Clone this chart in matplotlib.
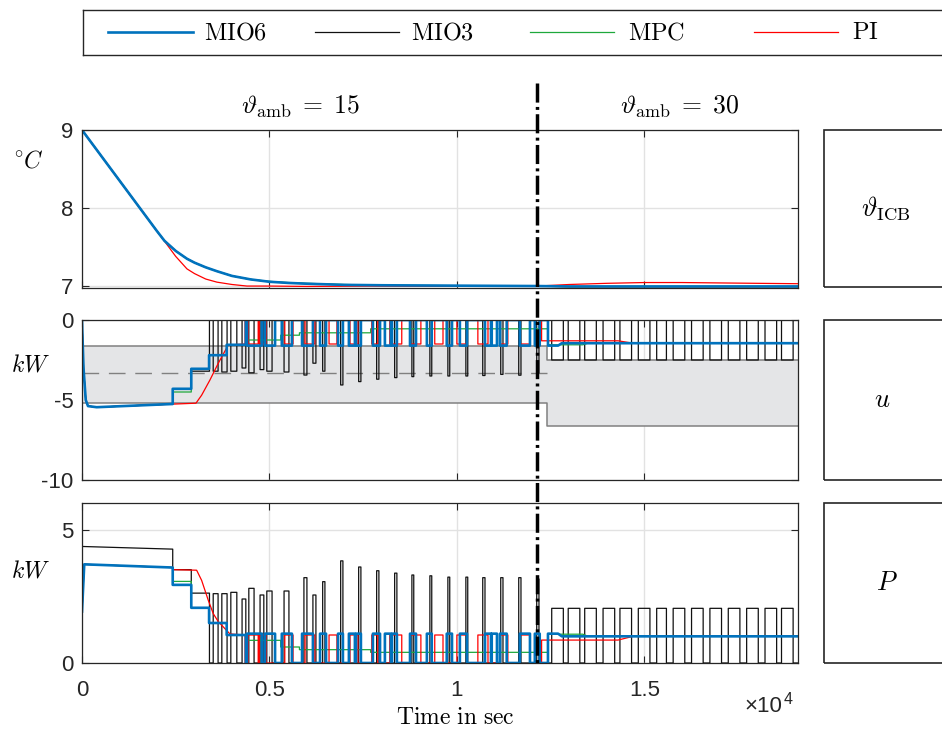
import matplotlib.pyplot as plt
import matplotlib.transforms as mtransforms
from matplotlib.lines import Line2D
from matplotlib.patches import Rectangle

plt.rcParams['font.family'] = ['Liberation Sans', 'DejaVu Sans']
plt.rcParams['mathtext.fontset'] = 'cm'
plt.rcParams['axes.unicode_minus'] = False

# ---------------- data ----------------
t_end = 19100
t_switch = 12150          # step of the ambient temperature
names = ['MIO6', 'MIO3', 'MPC', 'PI']
colors = {'MIO6': '#0072bd', 'MIO3': '#111111', 'MPC': '#1ea83c', 'PI': '#ff0000'}
amb_labels = [r'$\vartheta_{\mathrm{amb}}\;=\;15$', r'$\vartheta_{\mathrm{amb}}\;=\;30$']
box_labels = [r'$\vartheta_{\mathrm{ICB}}$', r'$u$', r'$P$']
xtick_vals = [0, 5000, 10000, 15000]
xtick_labels = ['0', '0.5', '1', '1.5']

# ICB temperature [degC]
temp_t = [0, 500, 1000, 1500, 2000, 2200, 2500, 2800, 3000, 3300, 3600, 4000, 4500,
          5000, 5500, 6000, 7000, 8000, 10000, 12150, 13000, 15000, 17000, 19100]
temp_mio6 = [9.0, 8.676, 8.352, 8.028, 7.704, 7.58, 7.45, 7.35, 7.30, 7.24, 7.19, 7.13, 7.085,
             7.055, 7.04, 7.03, 7.015, 7.01, 7.005, 7.0, 6.995, 6.995, 6.995, 6.995]
temp_mio3 = [9.0, 8.676, 8.352, 8.028, 7.704, 7.58, 7.45, 7.35, 7.30, 7.24, 7.19, 7.13, 7.085,
             7.055, 7.04, 7.03, 7.015, 7.005, 7.0, 7.0, 6.99, 6.99, 6.99, 6.99]
temp_mpc = [9.0, 8.676, 8.352, 8.028, 7.704, 7.58, 7.45, 7.35, 7.30, 7.24, 7.19, 7.13, 7.085,
            7.06, 7.045, 7.035, 7.02, 7.01, 7.005, 7.0, 6.995, 6.995, 6.995, 6.995]
temp_pi_t = [0, 500, 1000, 1500, 2000, 2200, 2500, 2800, 3000, 3300, 3600, 4000, 4400,
             5000, 6000, 8000, 10000, 12150, 13000, 14000, 15000, 16000, 17000, 18000, 19100]
temp_pi = [9.0, 8.676, 8.352, 8.028, 7.704, 7.575, 7.38, 7.22, 7.16, 7.09, 7.05, 7.02, 7.0,
           7.0, 6.995, 7.0, 7.0, 7.0, 7.02, 7.035, 7.045, 7.045, 7.04, 7.035, 7.03]

# admissible band of u [kW]
band_t = [0, 12400, 19100]
band_hi = [-1.62, -2.5, -2.5]
band_lo = [-5.2, -6.6, -6.6]
band_mid_t = [0, 12400]
band_mid = [-3.3, -3.3]

# MIO6: initial steps, switching intervals, final level
mio6_p_pre_t = [0, 60, 2420, 2420, 2915, 2915, 3390, 3390, 3860, 3860, 4370]
mio6_p_pre = [1.93, 3.70, 3.58, 2.93, 2.93, 2.07, 2.07, 1.50, 1.50, 1.05, 1.05]
mio6_u_pre_t = [0, 40, 100, 160, 390, 2420, 2420, 2915, 2915, 3390, 3390, 3860, 3860, 4370]
mio6_u_pre = [-0.1, -3.0, -5.0, -5.38, -5.45, -5.25, -4.30, -4.30, -3.05, -3.05, -2.20, -2.20,
              -1.55, -1.55]
mio6_on = [(4400, 4800), (4880, 5150), (5330, 5600), (5870, 6160), (6350, 6510), (6830, 6960),
           (7120, 7280), (7310, 7440), (7760, 7950), (8080, 8240), (8270, 8400), (8750, 8910),
           (9200, 9330), (9730, 9870), (10080, 10270), (10750, 10910), (10930, 11070),
           (11150, 11330), (11680, 11950), (12080, 12210)]
mio6_p_on, mio6_u_on = 1.1, -1.6
mio6_post_t = [12430, 12430, 12700, 12800, t_end]
mio6_p_post = [0.0, 1.1, 1.1, 1.0, 1.0]
mio6_u_post = [0.0, -1.6, -1.6, -1.45, -1.45]

# PI
pi_p_pre_t = [0, 60, 2420, 2420, 3058, 3191, 3369, 3502, 3636, 3947, 4350]
pi_p_pre = [1.93, 3.70, 3.58, 3.50, 3.48, 3.10, 2.35, 1.85, 1.55, 1.09, 1.05]
pi_u_pre_t = [0, 40, 100, 160, 390, 3040, 3191, 3413, 3636, 3902, 4350]
pi_u_pre = [-0.1, -3.0, -5.0, -5.38, -5.45, -5.2, -4.7, -3.75, -2.7, -1.56, -1.5]
pi_on = [(4430, 4700), (4730, 4910), (5410, 5630), (5950, 6210), (6590, 6800), (7150, 7360),
         (7730, 7890), (8210, 8530), (8750, 9040), (9410, 9630), (10000, 10270),
         (10560, 10830), (11150, 11360), (11680, 11950)]
pi_p_on, pi_u_on = 1.05, -1.5
pi_post_t = [12260, 12260, 14300, 14700, t_end]
pi_p_post = [0.0, 0.86, 0.86, 1.0, 1.0]
pi_u_post = [0.0, -1.3, -1.3, -1.45, -1.45]

# MPC (no switching)
mpc_p_t = [0, 60, 2420, 2420, 2915, 2915, 3390, 3390, 3860, 3860, 4370, 4370, 5300, 5300,
           5800, 5800, 7700, 7700, 12430, 12430, 13360, 13500, t_end]
mpc_p = [1.93, 3.70, 3.58, 3.06, 3.06, 2.07, 2.07, 1.50, 1.50, 1.05, 1.05, 0.85, 0.85, 0.60,
         0.60, 0.50, 0.50, 0.40, 0.40, 1.08, 1.08, 1.0, 1.0]
mpc_u_t = [0, 40, 100, 160, 390, 2420, 2420, 2915, 2915, 3390, 3390, 3860, 3860, 4370, 4370,
           5300, 5300, 5800, 5800, 7700, 7700, 12430, 12430, 13360, 13500, t_end]
mpc_u = [-0.1, -3.0, -5.0, -5.38, -5.45, -5.25, -4.50, -4.50, -3.05, -3.05, -2.20, -2.20,
         -1.55, -1.55, -1.25, -1.25, -0.95, -0.95, -0.80, -0.80, -0.55, -0.55, -1.55, -1.55,
         -1.45, -1.45]

# MIO3: initial steps, then pulses (on, off, P peak, u trough)
mio3_p_pre_t = [0, 2420, 2420, 2915, 2915, 3400]
mio3_p_pre = [4.37, 4.27, 3.50, 3.50, 2.62, 2.62]
mio3_u_pre_t = [0, 40, 100, 160, 390, 2420, 2420, 2915, 2915, 3400]
mio3_u_pre = [-0.1, -3.0, -5.0, -5.38, -5.45, -5.25, -4.30, -4.30, -3.20, -3.20]
mio3_pulses = [
    (3500, 3630, 2.60, -3.20), (3730, 3870, 2.60, -3.25), (3970, 4130, 2.65, -3.20),
    (4270, 4370, 2.40, -3.00), (4450, 4590, 2.80, -3.30), (4750, 4850, 2.55, -3.10),
    (4930, 5070, 2.70, -3.20), (5390, 5520, 2.70, -3.25), (5920, 6000, 3.20, -3.44),
    (6160, 6240, 2.55, -2.70), (6420, 6480, 3.05, -3.20), (6900, 6960, 3.83, -4.06),
    (7380, 7440, 3.60, -3.85), (7860, 7920, 3.46, -3.70), (8340, 8400, 3.37, -3.60),
    (8800, 8850, 3.30, -3.54), (9280, 9330, 3.27, -3.50), (9760, 9810, 3.22, -3.50),
    (10240, 10290, 3.22, -3.50), (10690, 10750, 3.20, -3.47), (11170, 11230, 3.20, -3.40),
    (11650, 11710, 3.20, -3.45), (12130, 12190, 3.15, -3.30),
    (12530, 12840, 2.05, -2.50), (12970, 13280, 2.05, -2.50), (13410, 13720, 2.05, -2.50),
    (13900, 14210, 2.05, -2.50), (14350, 14660, 2.05, -2.50), (14840, 15150, 2.05, -2.50),
    (15330, 15590, 2.05, -2.50), (15770, 16080, 2.05, -2.50), (16260, 16570, 2.05, -2.50),
    (16750, 17060, 2.05, -2.50), (17240, 17550, 2.05, -2.50), (17730, 18040, 2.05, -2.50),
    (18220, 18530, 2.05, -2.50), (18660, 18970, 2.05, -2.50)]


def trace(pre_t, pre_v, pulses, post_t, post_v):
    """pre-section, then 0/level switching, then the post-section"""
    t, v = list(pre_t), list(pre_v)
    t.append(t[-1])
    v.append(0.0)
    for a, b, lev in pulses:
        t += [a, a, b, b]
        v += [0.0, lev, lev, 0.0]
    return t + list(post_t), v + list(post_v)


mio6_p = trace(mio6_p_pre_t, mio6_p_pre, [(a, b, mio6_p_on) for a, b in mio6_on],
               mio6_post_t, mio6_p_post)
mio6_u = trace(mio6_u_pre_t, mio6_u_pre, [(a, b, mio6_u_on) for a, b in mio6_on],
               mio6_post_t, mio6_u_post)
pi_p = trace(pi_p_pre_t, pi_p_pre, [(a, b, pi_p_on) for a, b in pi_on], pi_post_t, pi_p_post)
pi_u = trace(pi_u_pre_t, pi_u_pre, [(a, b, pi_u_on) for a, b in pi_on], pi_post_t, pi_u_post)
mio3_p = trace(mio3_p_pre_t, mio3_p_pre, [(a, b, p) for a, b, p, u in mio3_pulses], [t_end], [0.0])
mio3_u = trace(mio3_u_pre_t, mio3_u_pre, [(a, b, u) for a, b, p, u in mio3_pulses], [t_end], [0.0])

# ---------------- figure ----------------
W, H = 942, 738
fig = plt.figure(figsize=(W / 100, H / 100), dpi=100)


def px(x0, y0, x1, y1):
    return [x0 / W, 1 - y1 / H, (x1 - x0) / W, (y1 - y0) / H]


ax1 = fig.add_axes(px(82, 130, 798, 288))
ax2 = fig.add_axes(px(82, 320, 798, 480))
ax3 = fig.add_axes(px(82, 503, 798, 663))

lw = {'MIO6': 1.9, 'MIO3': 0.9, 'MPC': 0.9, 'PI': 0.9}

# temperatures
ax1.plot(temp_t, temp_mio3, color=colors['MIO3'], lw=lw['MIO3'])
ax1.plot(temp_t, temp_mpc, color=colors['MPC'], lw=lw['MPC'])
ax1.plot(temp_pi_t, temp_pi, color=colors['PI'], lw=lw['PI'])
ax1.plot(temp_t, temp_mio6, color=colors['MIO6'], lw=lw['MIO6'])
ax1.set_ylim(6.975, 9)
ax1.set_yticks([7, 8, 9])

# u with admissible band
ax2.fill_between(band_t, band_lo, band_hi, step='post', color='#e4e5e7', lw=0, zorder=1.5)
ax2.step(band_t, band_hi, where='post', color='#808080', lw=1.1, zorder=1.6)
ax2.step(band_t, band_lo, where='post', color='#808080', lw=1.1, zorder=1.6)
ax2.plot(band_mid_t, band_mid, color='#808080', lw=1.0, dashes=(12, 7), zorder=1.6)
ax2.plot(*mio3_u, color=colors['MIO3'], lw=lw['MIO3'], zorder=2)
ax2.plot(mpc_u_t, mpc_u, color=colors['MPC'], lw=lw['MPC'], zorder=2)
ax2.plot(*pi_u, color=colors['PI'], lw=lw['PI'], zorder=2)
ax2.plot(*mio6_u, color=colors['MIO6'], lw=lw['MIO6'], zorder=2)
ax2.set_ylim(-10, 0)
ax2.set_yticks([-10, -5, 0])

# electrical power
ax3.plot(*mio3_p, color=colors['MIO3'], lw=lw['MIO3'])
ax3.plot(mpc_p_t, mpc_p, color=colors['MPC'], lw=lw['MPC'])
ax3.plot(*pi_p, color=colors['PI'], lw=lw['PI'])
ax3.plot(*mio6_p, color=colors['MIO6'], lw=lw['MIO6'])
ax3.set_ylim(0, 6)
ax3.set_yticks([0, 5])

for ax in (ax1, ax2, ax3):
    ax.set_xlim(0, t_end)
    ax.set_xticks(xtick_vals)
    ax.grid(True, color='#e2e2e2', lw=1.0, zorder=0)
    ax.set_axisbelow(True)
    ax.tick_params(direction='in', length=5, width=0.8, top=True, right=True,
                   labelsize=16, color='#262626', labelcolor='#262626')
    ax.tick_params(axis='y', pad=6)
    ax.tick_params(axis='x', pad=12)
    for s in ax.spines.values():
        s.set_color('#262626')
        s.set_linewidth(0.9)
ax1.set_xticklabels([])
ax2.set_xticklabels([])
ax3.set_xticklabels(xtick_labels)

# units on the left
fig.text(28 / W, 1 - 161 / H, r'$^{\circ}C$', ha='center', va='center', size=17)
fig.text(31 / W, 1 - 366 / H, r'$kW$', ha='center', va='center', size=17)
fig.text(31 / W, 1 - 572 / H, r'$kW$', ha='center', va='center', size=17)

# axis label and exponent
fig.text(455 / W, 1 - 718 / H, r'$\mathrm{Time\ in\ sec}$', ha='center', va='center', size=17)
mult = fig.text(744 / W, 1 - 712 / H, '\u00d710', ha='left', va='baseline', size=16,
                color='#262626')
fig.add_artist(plt.Annotation('4', xy=(1.0, 1.0), xycoords=mult, ha='left', va='top',
                              xytext=(1, 3), textcoords='offset points', size=11.5,
                              color='#262626'))

# ambient temperature annotations
fig.text(300 / W, 1 - 107 / H, amb_labels[0], ha='center', va='center', size=18.5)
fig.text(680 / W, 1 - 107 / H, amb_labels[1], ha='center', va='center', size=18.5)

# boxes on the right
for (y0, y1), lab, xc in zip([(130, 287), (320, 480), (503, 663)], box_labels, [886, 882, 887]):
    fig.add_artist(Rectangle((824 / W, 1 - y1 / H), (960 - 824) / W, (y1 - y0) / H,
                             transform=fig.transFigure, fill=False, ec='#262626', lw=1.2))
    fig.text(xc / W, 1 - (y0 + y1) / 2 / H, lab, ha='center', va='center', size=19)

# switching instant
blend = mtransforms.blended_transform_factory(ax3.transData, fig.transFigure)
fig.add_artist(Line2D([t_switch, t_switch], [1 - 83 / H, 1 - 663 / H], transform=blend,
                      color='k', lw=2.5, dashes=(5.5, 1.25, 0.85, 1.25)))

# legend box
lax = fig.add_axes(px(83, 10, 960, 55))
lax.set_xlim(83, 960)
lax.set_ylim(55, 10)
lax.set_xticks([])
lax.set_yticks([])
for s in lax.spines.values():
    s.set_color('#262626')
    s.set_linewidth(1.0)
for name, (x0, x1), xt in zip(names, [(108, 193), (315, 399), (530, 614), (754, 838)],
                              [204, 411, 628, 852]):
    lax.plot([x0, x1], [32, 32], color=colors[name], lw=lw[name])
    lax.text(xt, 33, r'$\mathrm{%s}$' % name, ha='left', va='center', size=17.5)

fig.savefig('out.png', dpi=100)
